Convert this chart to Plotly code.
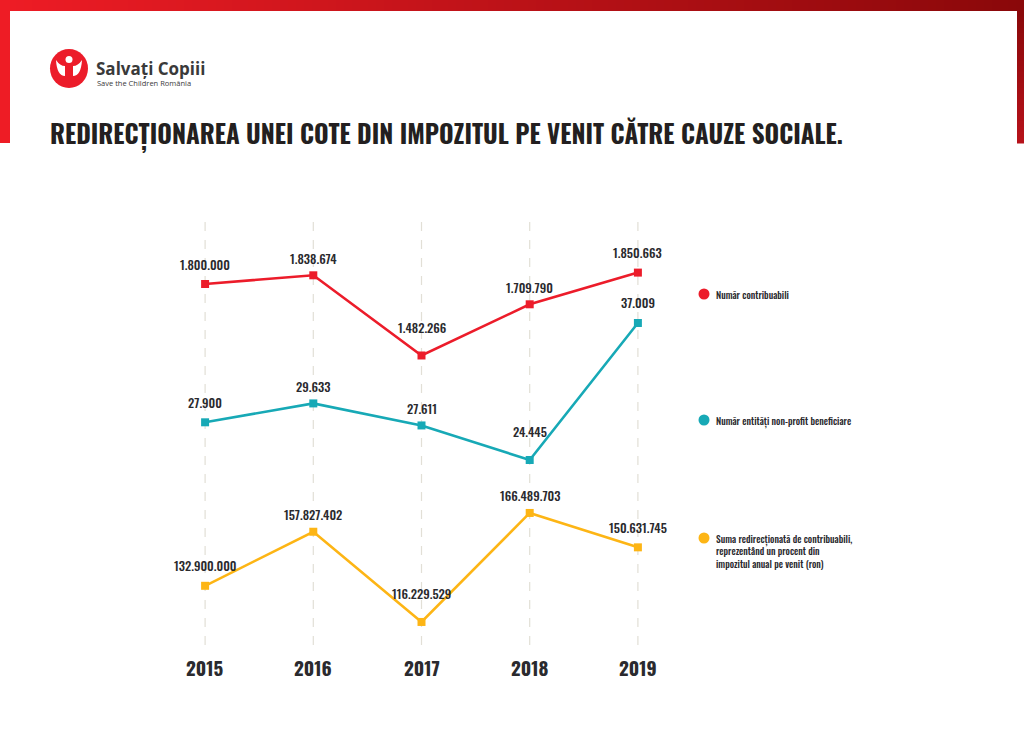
import plotly.graph_objects as go

# ---------------- data ----------------
years = [2015, 2016, 2017, 2018, 2019]
contribuabili = [1800000, 1838674, 1482266, 1709790, 1850663]
entitati = [27900, 29633, 27611, 24445, 37009]
suma = [132900000, 157827402, 116229529, 166489703, 150631745]

series_names = [
    "Număr contribuabili",
    "Număr entități non-profit beneficiare",
    "Suma redirecționată de contribuabili,<br>reprezentând un procent din<br>impozitul anual pe venit (ron)",
]
title_text = "REDIRECȚIONAREA UNEI COTE DIN IMPOZITUL PE VENIT CĂTRE CAUZE SOCIALE."

# ---------------- style ----------------
W, H = 1024, 732
RED = "#ec1c2a"
TEAL = "#17a9b6"
YELLOW = "#fdb515"
DARK = "#2a2a2e"
HEAVY = "Oswald, Roboto Condensed, Open Sans, sans-serif"
COND = "Oswald, Roboto Condensed, Open Sans, sans-serif"


def px(x):
    return x / W


def py(y):
    return 1 - y / H


def fmt(v):
    return f"{v:,}".replace(",", ".")


fig = go.Figure()

series = [
    (contribuabili, RED, "y"),
    (entitati, TEAL, "y2"),
    (suma, YELLOW, "y3"),
]

for (vals, col, ax), name in zip(series, series_names):
    fig.add_trace(go.Scatter(
        x=years, y=vals, yaxis=ax, mode="lines+markers",
        line=dict(color=col, width=2.6),
        marker=dict(symbol="square", size=8, color=col),
        name=name.replace("<br>", " "), showlegend=False, hoverinfo="x+y",
    ))
    n = len(vals)
    for i, (xv, yv) in enumerate(zip(years, vals)):
        # labels at interior local minima sit higher so the lines do not cross them
        interior_valley = 0 < i < n - 1 and vals[i - 1] > yv and vals[i + 1] > yv
        endpoint = i == 0 or i == n - 1
        shift = 28 if interior_valley else (20 if endpoint else 17)
        fig.add_annotation(
            x=xv, y=yv, xref="x", yref=ax, text=fmt(yv), showarrow=False,
            yshift=shift,
            font=dict(family=COND, size=12.5, color=DARK, weight=500),
        )

shapes = []
# vertical dashed guides
for yr in years:
    shapes.append(dict(type="line", xref="x", yref="paper", x0=yr, x1=yr,
                       y0=py(222), y1=py(646),
                       line=dict(color="#e2dfd6", width=1.2, dash="dash"), layer="below"))

# year labels
for yr in years:
    fig.add_annotation(x=yr, y=py(667), xref="x", yref="paper", text=str(yr),
                       showarrow=False, yanchor="middle",
                       font=dict(family=HEAVY, size=19, color=DARK, weight=700))

# legend (custom, positioned beside each series)
leg_y = [294, 420, 538]
for (vals, col, ax), name, ly in zip(series, series_names, leg_y):
    shapes.append(dict(type="circle", xref="paper", yref="paper",
                       x0=px(698.5), x1=px(709.5), y0=py(ly + 5.5), y1=py(ly - 5.5),
                       fillcolor=col, line=dict(width=0)))
    fig.add_annotation(x=px(714), y=py(ly - 8), xref="paper", yref="paper",
                       text=name, showarrow=False, xanchor="left", yanchor="top",
                       align="left",
                       font=dict(family=COND, size=9.5, color=DARK, weight=500))

# frame: top gradient bar + side bars
c0 = (238, 28, 37)
c1 = (138, 8, 10)
N = 128
for i in range(N):
    t = i / (N - 1)
    col = "rgb(%d,%d,%d)" % tuple(round(a + (b - a) * t) for a, b in zip(c0, c1))
    shapes.append(dict(type="rect", xref="paper", yref="paper",
                       x0=px(W * i / N), x1=px(W * (i + 1) / N + 0.6),
                       y0=py(11), y1=py(0), fillcolor=col, line=dict(width=0)))
shapes.append(dict(type="rect", xref="paper", yref="paper", x0=px(0), x1=px(10),
                   y0=py(143), y1=py(0), fillcolor="rgb(238,28,37)", line=dict(width=0)))
M = 24
for i in range(M):
    t = i / (M - 1)
    col = "rgb(%d,%d,%d)" % tuple(round(a + (b - a) * t) for a, b in zip((138, 8, 10), (182, 18, 26)))
    shapes.append(dict(type="rect", xref="paper", yref="paper", x0=px(1017), x1=px(1024),
                       y0=py(11 + 132 * (i + 1) / M + 0.5), y1=py(11 + 132 * i / M),
                       fillcolor=col, line=dict(width=0)))

# logo: stylised figure in a red circle
shapes.append(dict(type="circle", xref="paper", yref="paper",
                   x0=px(50), x1=px(88), y0=py(88), y1=py(49),
                   fillcolor=RED, line=dict(width=0)))
shapes.append(dict(type="path", xref="paper", yref="paper",
                   path="M %f %f Q %f %f %f %f L %f %f Q %f %f %f %f Z" % (
                       px(56), py(60), px(57), py(76), px(65), py(76),
                       px(65), py(66), px(60), py(66), px(56), py(60)),
                   fillcolor="white", line=dict(width=0)))
shapes.append(dict(type="path", xref="paper", yref="paper",
                   path="M %f %f Q %f %f %f %f L %f %f Q %f %f %f %f Z" % (
                       px(82), py(60), px(81), py(76), px(73), py(76),
                       px(73), py(66), px(78), py(66), px(82), py(60)),
                   fillcolor="white", line=dict(width=0)))
shapes.append(dict(type="circle", xref="paper", yref="paper",
                   x0=px(65.5), x1=px(72.5), y0=py(63), y1=py(56),
                   fillcolor="white", line=dict(width=0)))

fig.add_annotation(x=px(94), y=py(68), xref="paper", yref="paper",
                   text="Salvați Copiii", showarrow=False, xanchor="left", yanchor="middle",
                   font=dict(family="Open Sans, sans-serif", size=17, color="#3a3a3a", weight=700))
fig.add_annotation(x=px(95), y=py(83), xref="paper", yref="paper",
                   text="Save the Children România", showarrow=False, xanchor="left", yanchor="middle",
                   font=dict(family="Open Sans, sans-serif", size=7.5, color="#3a3a3a"))

# title
fig.add_annotation(x=px(48), y=py(133), xref="paper", yref="paper",
                   text=title_text, showarrow=False, xanchor="left", yanchor="middle",
                   font=dict(family=HEAVY, size=25, color="#231f20", weight=700))

fig.update_layout(
    width=W, height=H, margin=dict(l=0, r=0, t=0, b=0),
    paper_bgcolor="white", plot_bgcolor="white", showlegend=False,
    xaxis=dict(domain=[px(151), px(692)], range=[2014.5, 2019.5], visible=False),
    yaxis=dict(domain=[0, 1], range=[-191100, 3062200], visible=False),
    yaxis2=dict(domain=[0, 1], range=[-502, 66629], overlaying="y", visible=False),
    yaxis3=dict(domain=[0, 1], range=[65.49e6, 403.0e6], overlaying="y", visible=False),
    shapes=shapes,
)

fig.write_html("out.html", config={"displayModeBar": False},
               post_script="document.body.style.margin='0';document.body.style.overflow='hidden';")
